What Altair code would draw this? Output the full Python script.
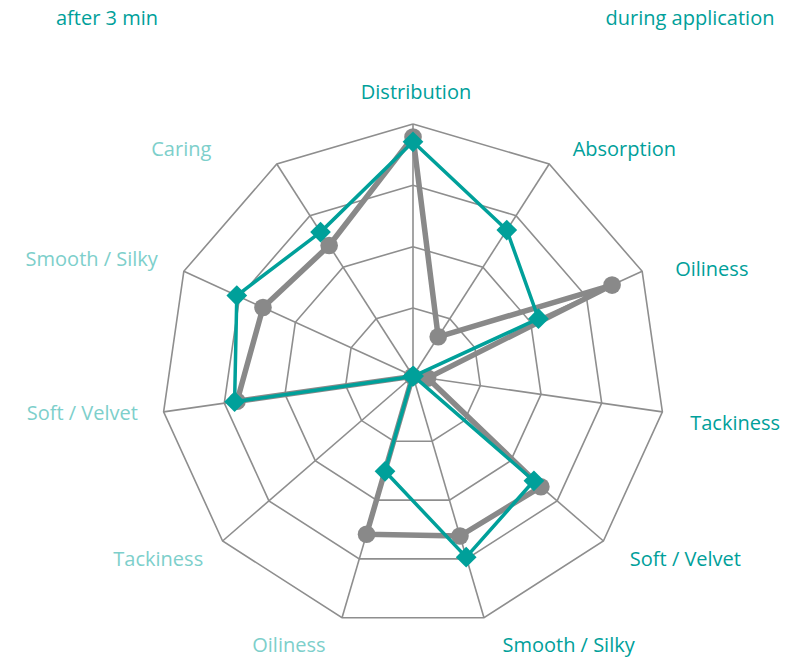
import math
import altair as alt
import pandas as pd

# ---------------- data ----------------
AXES = ["Distribution", "Absorption", "Oiliness", "Tackiness", "Soft / Velvet",
        "Smooth / Silky", "Oiliness", "Tackiness", "Soft / Velvet", "Smooth / Silky", "Caring"]
SIDE = ["top", "right", "right", "right", "right", "right",
        "left", "left", "left", "left", "left"]
GRAY_VALUES = [3.79, 0.65, 3.46, 0.13, 2.65, 2.61, 2.58, -0.10, 2.79, 2.58, 2.42]
TEAL_VALUES = [3.71, 2.72, 2.14, -0.10, 2.50, 2.97, 1.51, -0.10, 2.83, 3.05, 2.68]
RING_LEVELS = [1, 2, 3, 4]
HEADERS = ["after 3 min", "during application"]

# ---------------- layout / style ----------------
POLE = 0.11            # value sitting at the centre is -POLE
UNIT = 61.3            # px per value unit
W, H = 778, 651
CX, CY = 405, 368      # centre inside plot area
LABEL_R = 275 / UNIT
LABEL_NUDGE = [(3, -8), (11, 5), (12, 8), (5, 9), (9, 4), (12, 6),
               (-10, 6), (-2, 4), (-3, -1), (-5, -2), (-53, 5)]
TEAL = "#00A09A"
LIGHT_TEAL = "#7DCFCB"
GRAY = "#898989"
GRID = "#8E8E8E"
FONT = "Open Sans"
FS = 20
N = len(AXES)

sx = alt.Scale(domain=[-CX / UNIT, (W - CX) / UNIT], nice=False, zero=False)
sy = alt.Scale(domain=[-(H - CY) / UNIT, CY / UNIT], nice=False, zero=False)
X = alt.X("x:Q", scale=sx, axis=None)
Y = alt.Y("y:Q", scale=sy, axis=None)

polar = dict(
    theta=f"datum.idx * 2 * PI / {N}",
    rv=f"datum.value + {POLE}",
)


def to_xy(ch):
    return ch.transform_calculate(**polar).transform_calculate(
        x="datum.rv * sin(datum.theta)", y="datum.rv * cos(datum.theta)")


# series table (closed polygons)
rows = []
for name, vals in [("Reference", GRAY_VALUES), ("Product", TEAL_VALUES)]:
    for i in range(N + 1):
        rows.append({"series": name, "idx": i, "value": vals[i % N]})
series_df = pd.DataFrame(rows)

ring_rows = []
for lv in RING_LEVELS:
    for i in range(N + 1):
        ring_rows.append({"level": lv, "idx": i, "value": lv})
ring_df = pd.DataFrame(ring_rows)

spoke_df = pd.DataFrame({"idx": list(range(N)), "value": [max(RING_LEVELS)] * N})

rings = to_xy(alt.Chart(ring_df)).mark_line(color=GRID, strokeWidth=1.6).encode(
    x=X, y=Y, detail="level:N", order="idx:Q")
spokes = to_xy(alt.Chart(spoke_df)).transform_calculate(x0="0", y0="0").mark_rule(
    color=GRID, strokeWidth=1.6).encode(x=X, y=Y, x2="x0:Q", y2="y0:Q")

gray_src = to_xy(alt.Chart(series_df)).transform_filter("datum.series == 'Reference'")
teal_src = to_xy(alt.Chart(series_df)).transform_filter("datum.series == 'Product'")

gray_line = gray_src.mark_line(color=GRAY, strokeWidth=5.5, strokeJoin="round").encode(
    x=X, y=Y, order="idx:Q")
gray_pts = gray_src.transform_filter(f"datum.idx < {N}").mark_point(
    shape="circle", filled=True, size=310, color=GRAY, opacity=1).encode(x=X, y=Y)
teal_line = teal_src.mark_line(color=TEAL, strokeWidth=3.5, strokeJoin="round").encode(
    x=X, y=Y, order="idx:Q")
teal_pts = teal_src.transform_filter(f"datum.idx < {N}").mark_point(
    shape="diamond", filled=True, size=430, color=TEAL, opacity=1).encode(x=X, y=Y)

# axis labels
label_df = pd.DataFrame({
    "idx": list(range(N)),
    "label": AXES,
    "side": SIDE,
    "ndx": [n[0] for n in LABEL_NUDGE],
    "ndy": [n[1] for n in LABEL_NUDGE],
})
lab_base = alt.Chart(label_df).transform_calculate(
    theta=f"datum.idx * 2 * PI / {N}"
).transform_calculate(
    x=f"{LABEL_R} * sin(datum.theta) + datum.ndx / {UNIT}",
    y=f"{LABEL_R} * cos(datum.theta) - datum.ndy / {UNIT}",
)
labels = []
for side, align, col in [("top", "center", TEAL), ("right", "left", TEAL), ("left", "right", LIGHT_TEAL)]:
    labels.append(
        lab_base.transform_filter(f"datum.side == '{side}'").mark_text(
            align=align, baseline="middle", font=FONT, fontSize=FS, color=col
        ).encode(x=X, y=Y, text="label:N")
    )

head_left = alt.Chart(pd.DataFrame({"t": [HEADERS[0]]})).mark_text(
    align="center", baseline="middle", font=FONT, fontSize=FS, color=TEAL
).encode(x=alt.value(99), y=alt.value(11), text="t:N")
head_right = alt.Chart(pd.DataFrame({"t": [HEADERS[1]]})).mark_text(
    align="center", baseline="middle", font=FONT, fontSize=FS, color=TEAL
).encode(x=alt.value(682), y=alt.value(11), text="t:N")

chart = alt.layer(
    rings, spokes, gray_line, gray_pts, teal_line, teal_pts, *labels, head_left, head_right
).properties(
    width=W, height=H, padding=0,
    autosize=alt.AutoSizeParams(type="none"),
).configure_view(stroke=None)

chart.save("out.html", embed_options={"renderer": "svg", "actions": False})
